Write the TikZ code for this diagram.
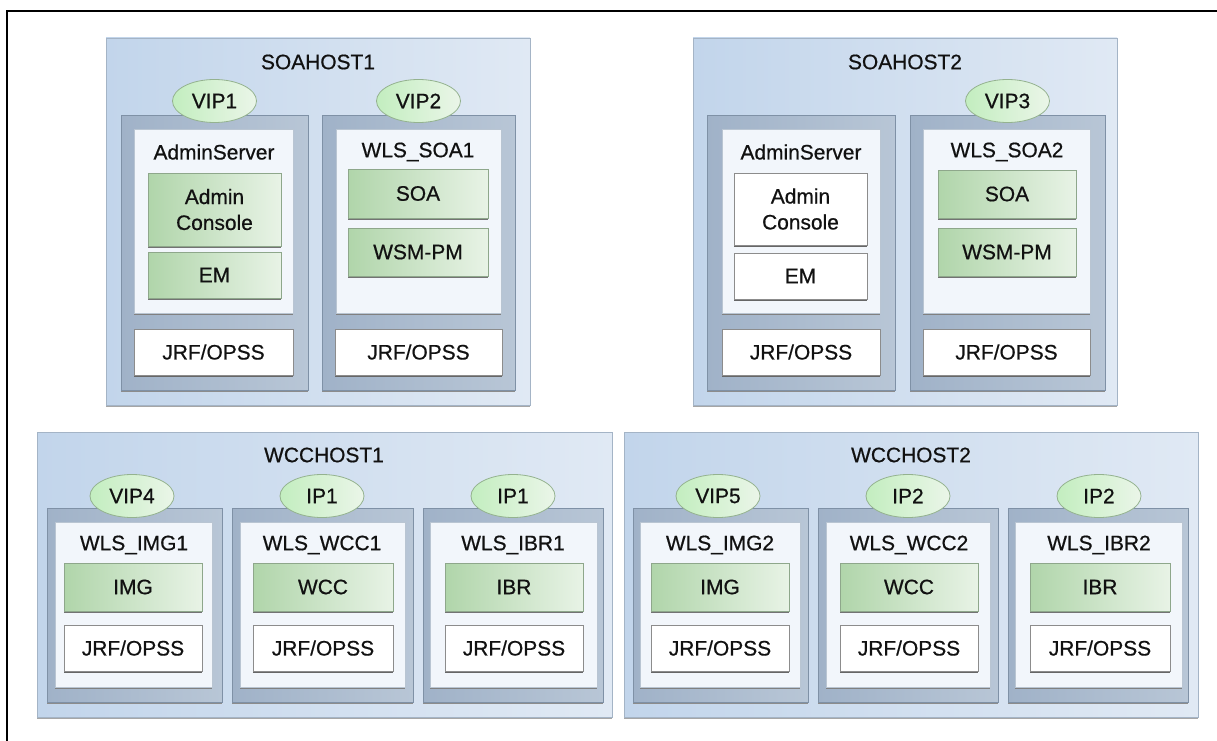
\documentclass[tikz,border=0pt]{standalone}
\usepackage{fontspec}
\setmainfont{Liberation Sans}
\newfontfamily\labfont{Liberation Sans}[FakeBold=0.6]
\usetikzlibrary{shapes.geometric,shadows}
\definecolor{hostL}{HTML}{C2D5EB}
\definecolor{hostR}{HTML}{E0E9F4}
\definecolor{hostB}{HTML}{A4B4C6}
\definecolor{srvL}{HTML}{A0B2C8}
\definecolor{srvR}{HTML}{B8C6D6}
\definecolor{srvB}{HTML}{7F91A6}
\definecolor{panF}{HTML}{F2F6FB}
\definecolor{panB}{HTML}{B9C5D2}
\definecolor{cmpL}{HTML}{B0D5AA}
\definecolor{cmpR}{HTML}{E8F3E6}
\definecolor{cmpB}{HTML}{8EA78B}
\definecolor{ipF}{HTML}{D6ECD2}
\definecolor{ipB}{HTML}{94B28F}
\definecolor{txt}{HTML}{111111}
\newcommand\bbox[7]{\node[#2, minimum width={(#5-#3)*1bp}, minimum height={(#6-#4)*1bp}] (#1) at ({(#3+#5)/2},{(#4+#6)/2}) {#7};}
\tikzset{
  base/.style={inner sep=0pt, outer sep=0pt, text=txt},
  hostbox/.style={base, draw=hostB, line width=0.8bp, left color=hostL, right color=hostR,
     general shadow={fill=black!35, shadow xshift=0bp, shadow yshift=-1.5bp}},
  srvbox/.style={base, draw=srvB, line width=0.8bp, left color=srvL, right color=srvR,
     general shadow={fill=black!45, shadow xshift=0bp, shadow yshift=-1.5bp}},
  panelbox/.style={base, draw=panB, line width=0.8bp, fill=panF,
     general shadow={fill=black!50, shadow xshift=0bp, shadow yshift=-1.5bp}},
  compbox/.style={base, draw=cmpB, line width=0.8bp, left color=cmpL, right color=cmpR, align=center,
     general shadow={fill=black!55, shadow xshift=0bp, shadow yshift=-1.5bp}},
  wbox/.style={base, draw=black!45, line width=0.8bp, fill=white, align=center,
     general shadow={fill=black!60, shadow xshift=0bp, shadow yshift=-1.5bp}},
  ipnode/.style={base, ellipse, draw=ipB, line width=0.8bp, left color=ipF!85!green!60!ipF, right color=ipF!50!white,
     minimum width=84bp, minimum height=43bp},
  ttl/.style={base},
}
\begin{document}
\begin{tikzpicture}[x=1bp, y=-1bp, font=\labfont\fontsize{21}{26}\selectfont]
\useasboundingbox (0,0) rectangle (1217,741);
\coordinate (fa) at (7,741);
\coordinate (fb) at (7,11);
\coordinate (fc) at (1217,11);
\draw[line width=2bp] (fa) -- (fb) -- (fc);

% ---------- SOAHOST1
\bbox{h1}{hostbox}{106}{38}{530}{405}{}
\node[ttl] (h1t) at (318,62) {SOAHOST1};
\bbox{h1s1}{srvbox}{121}{115}{308}{390}{}
\bbox{h1s1p}{panelbox}{134}{129}{293}{313}{}
\node[ttl] (h1s1l) at (214,152) {AdminServer};
\bbox{h1s1a}{compbox}{148}{173}{281}{246}{Admin\\Console}
\bbox{h1s1b}{compbox}{148}{252}{281}{298}{EM}
\bbox{h1s1j}{wbox}{134}{329}{293}{375}{JRF/OPSS}
\node[ipnode] (vip1) at (214.5,101) {VIP1};
\bbox{h1s2}{srvbox}{322}{115}{515}{390}{}
\bbox{h1s2p}{panelbox}{336}{129}{501}{313}{}
\node[ttl] (h1s2l) at (418,152) {WLS\_SOA1};
\bbox{h1s2a}{compbox}{348}{169}{488}{218}{SOA}
\bbox{h1s2b}{compbox}{348}{228}{488}{276}{WSM-PM}
\bbox{h1s2j}{wbox}{335}{329}{502}{375}{JRF/OPSS}
\node[ipnode] (vip2) at (418.5,101) {VIP2};

% ---------- SOAHOST2
\bbox{h2}{hostbox}{693}{38}{1117}{405}{}
\node[ttl] (h2t) at (905,62) {SOAHOST2};
\bbox{h2s1}{srvbox}{707}{115}{895}{390}{}
\bbox{h2s1p}{panelbox}{722}{129}{880}{313}{}
\node[ttl] (h2s1l) at (801,152) {AdminServer};
\bbox{h2s1a}{wbox}{734}{173}{867}{245}{Admin\\Console}
\bbox{h2s1b}{wbox}{734}{253}{867}{299}{EM}
\bbox{h2s1j}{wbox}{722}{329}{880}{375}{JRF/OPSS}
\bbox{h2s2}{srvbox}{910}{115}{1105}{390}{}
\bbox{h2s2p}{panelbox}{923}{129}{1090}{313}{}
\node[ttl] (h2s2l) at (1007,152) {WLS\_SOA2};
\bbox{h2s2a}{compbox}{938}{170}{1076}{218}{SOA}
\bbox{h2s2b}{compbox}{938}{228}{1076}{276}{WSM-PM}
\bbox{h2s2j}{wbox}{923}{329}{1090}{375}{JRF/OPSS}
\node[ipnode] (vip3) at (1007.5,101) {VIP3};

% ---------- WCCHOST1
\bbox{h3}{hostbox}{37}{432}{612}{717}{}
\node[ttl] (h3t) at (324,455) {WCCHOST1};
\bbox{h3s1}{srvbox}{47}{508}{222}{702}{}
\bbox{h3s1p}{panelbox}{55}{522}{212}{687}{}
\node[ttl] (h3s1l) at (134,545) {WLS\_IMG1};
\bbox{h3s1a}{compbox}{64}{563}{202}{611}{IMG}
\bbox{h3s1j}{wbox}{64}{625}{202}{671}{JRF/OPSS}
\node[ipnode] (vip4) at (132,496) {VIP4};
\bbox{h3s2}{srvbox}{232}{508}{413}{702}{}
\bbox{h3s2p}{panelbox}{240}{522}{405}{687}{}
\node[ttl] (h3s2l) at (322,545) {WLS\_WCC1};
\bbox{h3s2a}{compbox}{253}{563}{393}{611}{WCC}
\bbox{h3s2j}{wbox}{253}{625}{393}{671}{JRF/OPSS}
\node[ipnode] (ip1a) at (322,496) {IP1};
\bbox{h3s3}{srvbox}{423}{508}{603}{702}{}
\bbox{h3s3p}{panelbox}{430}{522}{597}{687}{}
\node[ttl] (h3s3l) at (513,545) {WLS\_IBR1};
\bbox{h3s3a}{compbox}{445}{563}{583}{611}{IBR}
\bbox{h3s3j}{wbox}{445}{625}{583}{671}{JRF/OPSS}
\node[ipnode] (ip1b) at (513,496) {IP1};

% ---------- WCCHOST2
\bbox{h4}{hostbox}{624}{432}{1198}{717}{}
\node[ttl] (h4t) at (911,455) {WCCHOST2};
\bbox{h4s1}{srvbox}{633}{508}{808}{702}{}
\bbox{h4s1p}{panelbox}{640}{522}{800}{687}{}
\node[ttl] (h4s1l) at (720,545) {WLS\_IMG2};
\bbox{h4s1a}{compbox}{651}{563}{789}{611}{IMG}
\bbox{h4s1j}{wbox}{651}{625}{789}{671}{JRF/OPSS}
\node[ipnode] (vip5) at (718,496) {VIP5};
\bbox{h4s2}{srvbox}{818}{508}{998}{702}{}
\bbox{h4s2p}{panelbox}{826}{522}{990}{687}{}
\node[ttl] (h4s2l) at (909,545) {WLS\_WCC2};
\bbox{h4s2a}{compbox}{840}{563}{978}{611}{WCC}
\bbox{h4s2j}{wbox}{840}{625}{978}{671}{JRF/OPSS}
\node[ipnode] (ip2a) at (908,496) {IP2};
\bbox{h4s3}{srvbox}{1008}{508}{1188}{702}{}
\bbox{h4s3p}{panelbox}{1015}{522}{1182}{687}{}
\node[ttl] (h4s3l) at (1099,545) {WLS\_IBR2};
\bbox{h4s3a}{compbox}{1030}{563}{1170}{611}{IBR}
\bbox{h4s3j}{wbox}{1030}{625}{1170}{671}{JRF/OPSS}
\node[ipnode] (ip2b) at (1099,496) {IP2};
\end{tikzpicture}
\end{document}
